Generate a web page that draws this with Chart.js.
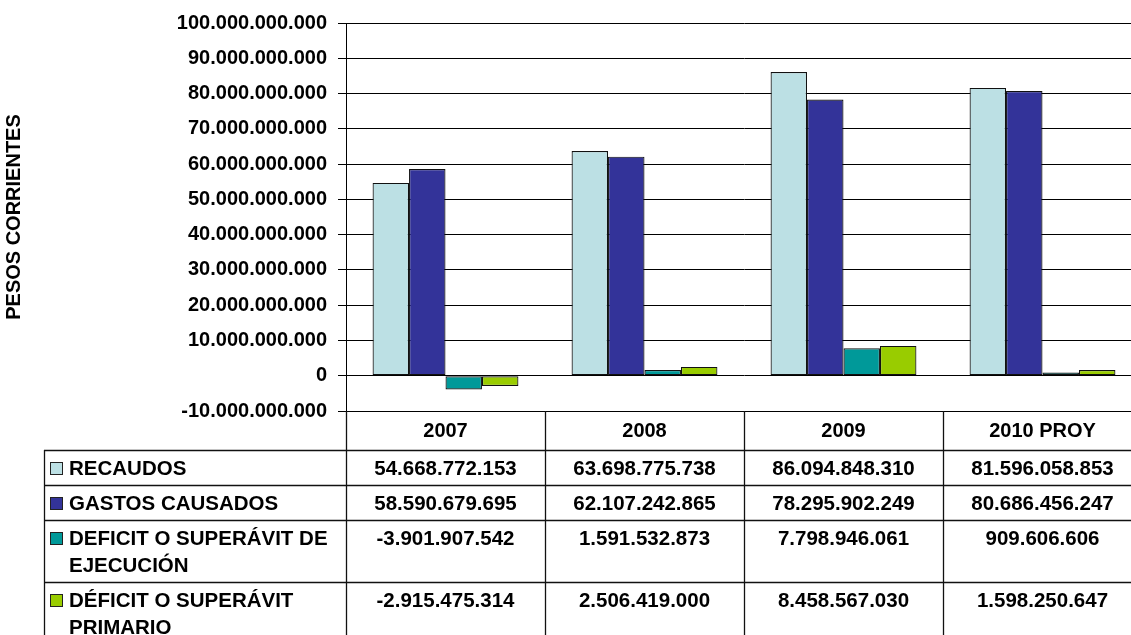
<!DOCTYPE html>
<html>
<head>
<meta charset="utf-8">
<script src="https://cdn.jsdelivr.net/npm/chart.js@4"></script>
<style>
  html, body { margin: 0; padding: 0; background: #fff; overflow: hidden; }
  #wrap { width: 1142px; height: 635px; }
</style>
</head>
<body>
<div id="wrap"><canvas id="myChart"></canvas></div>
<script>
// data
var years = ['2007', '2008', '2009', '2010 PROY'];
var recaudos = [54668772153, 63698775738, 86094848310, 81596058853];
var gastos = [58590679695, 62107242865, 78295902249, 80686456247];
var deficitEjecucion = [-3901907542, 1591532873, 7798946061, 909606606];
var deficitPrimario = [-2915475314, 2506419000, 8458567030, 1598250647];
var seriesNames = ['RECAUDOS', 'GASTOS CAUSADOS', 'DEFICIT O SUPERÁVIT DE EJECUCIÓN', 'DÉFICIT O SUPERÁVIT PRIMARIO'];
var seriesColors = ['#BCE0E4', '#333399', '#009999', '#99CC00'];
var yMin = -10000000000, yMax = 100000000000, yStep = 10000000000;

var FONT = '"Liberation Sans", Arial, sans-serif';

function fmt(v) {
  var s = Math.abs(Math.round(v)).toString().replace(/\B(?=(\d{3})+(?!\d))/g, '.');
  return (v < 0 ? '-' : '') + s;
}

function wrap(ctx, text, maxW) {
  var words = text.split(' '), lines = [], cur = '';
  words.forEach(function (w) {
    var t = cur ? cur + ' ' + w : w;
    if (ctx.measureText(t).width > maxW && cur) { lines.push(cur); cur = w; }
    else cur = t;
  });
  lines.push(cur);
  return lines;
}

// data table under the plot
var dataTable = {
  id: 'dataTable',
  afterDraw: function (chart) {
    var ctx = chart.ctx;
    var area = chart.chartArea;
    var xs = chart.scales.x;
    var n = years.length;
    var colW = (area.right - area.left) / n;
    var tableLeft = 44, labelX = 69, firstRowTop = 450;
    var rows = [recaudos, gastos, deficitEjecucion, deficitPrimario];
    ctx.save();
    ctx.font = 'bold 20.5px ' + FONT;
    ctx.strokeStyle = '#111';
    ctx.lineWidth = 1.3;
    var bottom = chart.height + 20;

    // vertical lines of header and columns
    for (var i = 0; i <= n; i++) {
      var x = Math.round(area.left + i * colW) + 0.5;
      ctx.beginPath();
      ctx.moveTo(x, area.bottom);
      ctx.lineTo(x, bottom);
      ctx.stroke();
    }
    ctx.beginPath();
    ctx.moveTo(tableLeft + 0.5, firstRowTop);
    ctx.lineTo(tableLeft + 0.5, bottom);
    ctx.stroke();

    var top = firstRowTop;
    rows.forEach(function (vals, r) {
      var lines = wrap(ctx, seriesNames[r], 272);
      var h = 35 + (lines.length - 1) * 27;
      ctx.beginPath();
      ctx.moveTo(tableLeft, top + 0.5);
      ctx.lineTo(chart.width, top + 0.5);
      ctx.stroke();

      var cy = top + 19;
      // legend key
      ctx.fillStyle = seriesColors[r];
      ctx.fillRect(51, cy - 6, 11, 11);
      ctx.lineWidth = 1;
      ctx.strokeStyle = '#222';
      ctx.strokeRect(50.5, cy - 6.5, 12, 12);
      ctx.lineWidth = 1.3;
      ctx.strokeStyle = '#111';

      ctx.fillStyle = '#000';
      ctx.textAlign = 'left';
      ctx.textBaseline = 'middle';
      lines.forEach(function (ln, k) {
        ctx.fillText(ln, labelX, cy + k * 27);
      });
      ctx.textAlign = 'center';
      vals.forEach(function (v, c) {
        ctx.fillText(fmt(v), xs.getPixelForValue(c), cy);
      });
      top += h;
    });
    ctx.beginPath();
    ctx.moveTo(tableLeft, top + 0.5);
    ctx.lineTo(chart.width, top + 0.5);
    ctx.stroke();
    ctx.restore();
  }
};

var series = [recaudos, gastos, deficitEjecucion, deficitPrimario];
var datasets = series.map(function (d, i) {
  return {
    label: seriesNames[i],
    data: d,
    backgroundColor: seriesColors[i],
    borderColor: '#111',
    borderWidth: 1.2,
    borderSkipped: false,
    categoryPercentage: 0.733,
    barPercentage: 1.0
  };
});

new Chart(document.getElementById('myChart'), {
  type: 'bar',
  data: { labels: years, datasets: datasets },
  options: {
    responsive: true,
    maintainAspectRatio: false,
    animation: false,
    devicePixelRatio: 1,
    layout: { padding: { top: 11, left: 0, right: 0, bottom: 0 } },
    plugins: { legend: { display: false }, tooltip: { enabled: false } },
    scales: {
      x: {
        grid: { display: false, drawTicks: false },
        border: { display: false },
        ticks: { color: '#000', font: { family: FONT, size: 20, weight: 'bold' }, padding: 8, maxRotation: 0 },
        afterFit: function (s) { s.height = 224; }
      },
      y: {
        min: yMin,
        max: yMax,
        grid: { color: '#000', lineWidth: 1, tickLength: 8, drawTicks: true },
        border: { display: true, color: '#000', width: 1 },
        ticks: {
          stepSize: yStep,
          color: '#000',
          padding: 11,
          font: { family: FONT, size: 20, weight: 'bold' },
          callback: function (v) { return fmt(v); }
        },
        title: {
          display: true,
          text: 'PESOS CORRIENTES',
          color: '#000',
          font: { family: FONT, size: 20, weight: 'bold' },
          padding: { top: 2, bottom: 0 }
        },
        afterFit: function (s) { s.width = 346; }
      }
    }
  },
  plugins: [dataTable]
});
</script>
</body>
</html>
